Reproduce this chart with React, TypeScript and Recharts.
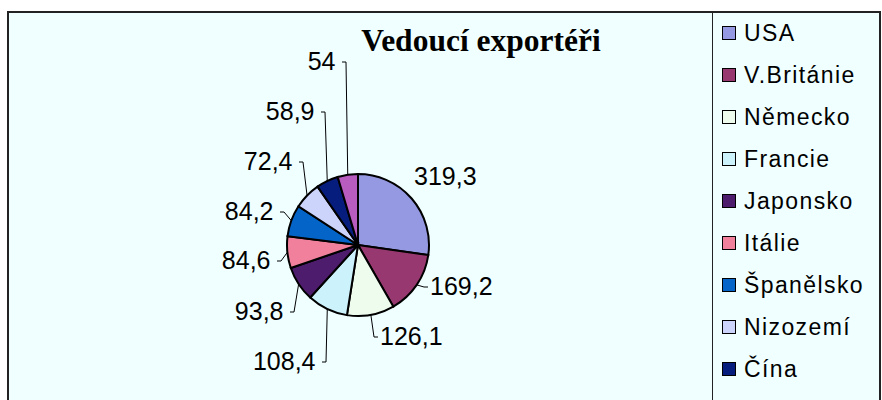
import React from 'react';
import { PieChart, Pie, Cell, Legend } from 'recharts';

const countries = ['USA', 'V.Británie', 'Německo', 'Francie', 'Japonsko', 'Itálie', 'Španělsko', 'Nizozemí', 'Čína', 'Hongkong'];
const exportValues = [319.3, 169.2, 126.1, 108.4, 93.8, 84.6, 84.2, 72.4, 58.9, 54];
const colors = ['#9499E2', '#983870', '#EEFCEE', '#CCF2FC', '#4E1C6C', '#F0809C', '#0464C8', '#CCD4FC', '#061D7E', '#B85CC0'];

const data = countries.map((name, i) => ({ name, value: exportValues[i] }));

// label elbow offsets relative to pie centre (layout only)
const labelLayout = [
  { dx: 50, dy: -68, side: 1, line: false },
  { dx: 66, dy: 42, side: 1, line: true },
  { dx: 16, dy: 92, side: 1, line: true },
  { dx: -32, dy: 117, side: -1, line: true },
  { dx: -64, dy: 67, side: -1, line: true },
  { dx: -77, dy: 16, side: -1, line: true },
  { dx: -74, dy: -33, side: -1, line: true },
  { dx: -55, dy: -83, side: -1, line: true },
  { dx: -33, dy: -133, side: -1, line: true },
  { dx: -12, dy: -183, side: -1, line: true },
];

const RADIAN = Math.PI / 180;
const LABEL_FONT = 25;
const LEGEND_H = 387;
const ROW0 = 20.5;
const ROW_STEP = 42;

const fmt = (v: number) => String(v).replace('.', ',');

const renderLabel = (props: any) => {
  const { cx, cy, midAngle, outerRadius, index, value } = props;
  const L = labelLayout[index];
  const ex = cx + outerRadius * Math.cos(-midAngle * RADIAN);
  const ey = cy + outerRadius * Math.sin(-midAngle * RADIAN);
  const bx = cx + L.dx;
  const by = cy + L.dy;
  const tailX = bx + L.side * 4;
  const tx = L.line ? bx + L.side * (L.side > 0 ? 6 : 10.5) : bx + 6;
  const ty = by - 1 + LABEL_FONT * 0.358;
  return (
    <g key={`lbl-${index}`}>
      {L.line && (
        <polyline
          points={`${ex},${ey} ${bx},${by} ${tailX},${by}`}
          fill="none"
          stroke="#000"
          strokeWidth={1}
        />
      )}
      <text
        x={tx}
        y={ty}
        textAnchor={L.side > 0 ? 'start' : 'end'}
        fontFamily="'Liberation Sans', Arial, sans-serif"
        fontSize={LABEL_FONT}
        fill="#000"
      >
        {fmt(value)}
      </text>
    </g>
  );
};

const renderLegend = (props: any) => {
  const raw = props.payload && props.payload.length ? props.payload : countries.map((c, i) => ({ value: c, color: colors[i] }));
  const payload = [...raw].sort((a: any, b: any) => countries.indexOf(a.value) - countries.indexOf(b.value));
  // only rows that fit inside the visible legend box
  const visible = payload.filter((_: any, i: number) => ROW0 + ROW_STEP * i + 13 <= LEGEND_H);
  return (
    <div
      style={{
        position: 'relative',
        width: 168,
        height: LEGEND_H,
        borderLeft: '1px solid #222',
        boxSizing: 'border-box',
        overflow: 'hidden',
      }}
    >
      {visible.map((entry: any, i: number) => {
        const center = ROW0 + ROW_STEP * i;
        return (
          <div key={`leg-${i}`}>
            <div
              style={{
                position: 'absolute',
                left: 9,
                top: center - 7.5,
                width: 12,
                height: 12,
                border: '1.5px solid #000',
                background: entry.color,
              }}
            />
            <div
              style={{
                position: 'absolute',
                left: 31,
                top: center - 13.5,
                height: 27,
                lineHeight: '27px',
                fontSize: 23,
                letterSpacing: 1.4,
                fontFamily: "'Liberation Sans', Arial, sans-serif",
                color: '#000',
                whiteSpace: 'nowrap',
              }}
            >
              {entry.value}
            </div>
          </div>
        );
      })}
    </div>
  );
};

export default function App() {
  return (
    <div
      style={{
        position: 'absolute',
        left: 7,
        top: 11,
        width: 874,
        height: 389,
        boxSizing: 'border-box',
        borderTop: '2px solid #222',
        borderLeft: '2px solid #222',
        borderRight: '2px solid #222',
        background: '#F0FFFF',
        overflow: 'hidden',
      }}
    >
      <PieChart width={870} height={387} margin={{ top: 0, right: 0, bottom: 0, left: 0 }}>
        <Pie
          data={data}
          dataKey="value"
          nameKey="name"
          cx={349}
          cy={232}
          outerRadius={71}
          startAngle={90}
          endAngle={-270}
          stroke="#000"
          strokeWidth={2}
          label={renderLabel}
          labelLine={false}
          isAnimationActive={false}
        >
          {data.map((d, i) => (
            <Cell key={d.name} fill={colors[i]} />
          ))}
        </Pie>
        <Legend
          layout="vertical"
          align="right"
          verticalAlign="top"
          width={168}
          height={LEGEND_H}
          content={renderLegend}
          wrapperStyle={{ left: 703, top: 0, width: 168, height: LEGEND_H, margin: 0 }}
        />
      </PieChart>
      <svg
        width={870}
        height={387}
        style={{ position: 'absolute', left: 0, top: 0, pointerEvents: 'none' }}
      >
        <text
          x={472}
          y={38}
          textAnchor="middle"
          fontFamily="'Liberation Serif', 'Times New Roman', serif"
          fontWeight="bold"
          fontSize={31.5}
          fill="#000"
        >
          Vedoucí exportéři
        </text>
      </svg>
    </div>
  );
}
